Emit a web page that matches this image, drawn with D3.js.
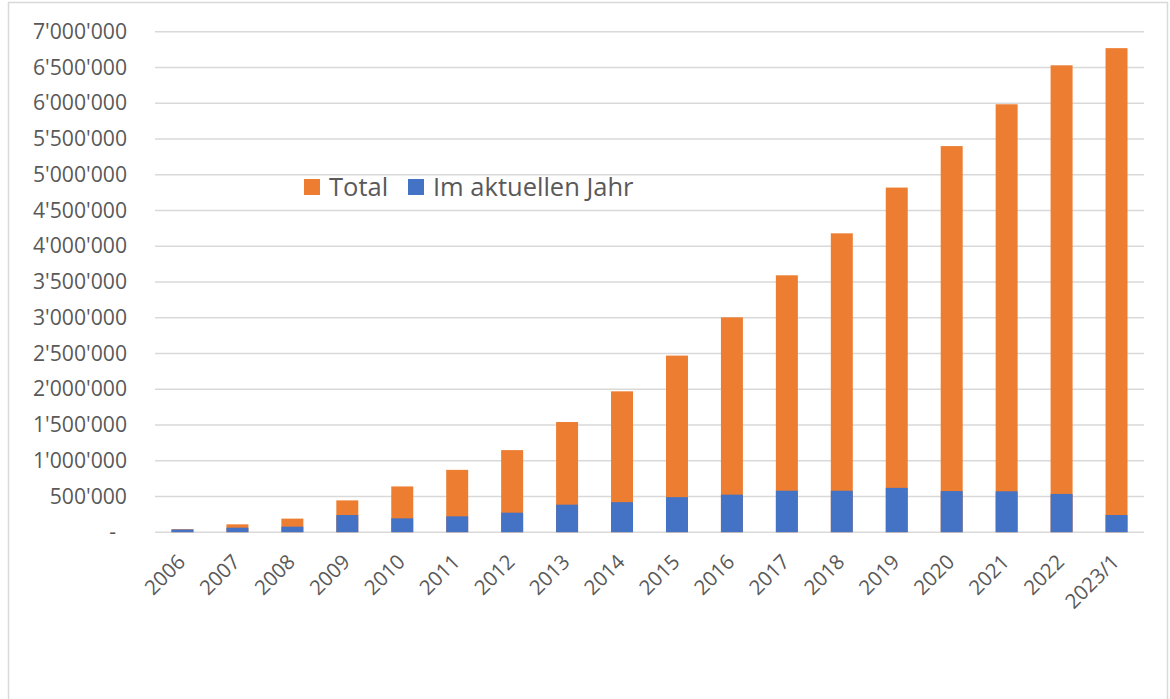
<!DOCTYPE html>
<html>
<head>
<meta charset="utf-8">
<script src="https://cdn.jsdelivr.net/npm/d3@7"></script>
<style>
  body { margin: 0; background: #fff; }
  text { font-family: "Open Sans", sans-serif; fill: #595959; }
</style>
</head>
<body>
<div id="chart"></div>
<script>
const years = ["2006", "2007", "2008", "2009", "2010", "2011", "2012", "2013", "2014",
  "2015", "2016", "2017", "2018", "2019", "2020", "2021", "2022", "2023/1"];
const total = [42000, 110000, 190000, 445000, 640000, 872000, 1148000, 1541000, 1970000,
  2470000, 3005000, 3593000, 4180000, 4820000, 5400000, 5985000, 6530000, 6770000];
const currentYear = [38000, 63000, 77000, 240000, 194000, 222000, 273000, 385000, 420000,
  490000, 525000, 580000, 580000, 620000, 575000, 572000, 535000, 240000];
const yTicks = [0, 500000, 1000000, 1500000, 2000000, 2500000, 3000000, 3500000,
  4000000, 4500000, 5000000, 5500000, 6000000, 6500000, 7000000];
const seriesNames = ["Total", "Im aktuellen Jahr"];
const colors = ["#ED7D31", "#4472C4"];

const width = 1170, height = 699;
const plotLeft = 155, plotRight = 1144, plotTop = 31.7, plotBottom = 532.2;

const svg = d3.select("#chart").append("svg")
    .attr("width", width)
    .attr("height", height);

// chart frame
svg.append("rect")
    .attr("x", 8.5).attr("y", 2.5)
    .attr("width", 1159).attr("height", 710)
    .attr("fill", "none")
    .attr("stroke", "#d9d9d9")
    .attr("stroke-width", 1.5);

const x = d3.scaleBand().domain(years).range([plotLeft, plotRight])
    .paddingInner(0.6).paddingOuter(0.3);
const y = d3.scaleLinear().domain([0, 7000000]).range([plotBottom, plotTop]);

// gridlines
svg.append("g").selectAll("line")
    .data(yTicks)
    .enter().append("line")
    .attr("x1", plotLeft).attr("x2", plotRight)
    .attr("y1", d => y(d)).attr("y2", d => y(d))
    .attr("stroke", "#d9d9d9")
    .attr("stroke-width", 1.6);

// y axis labels
const fmt = d => d === 0 ? "-" : d3.format(",")(d).replace(/,/g, "'");
const yAxis = svg.append("g")
    .attr("transform", `translate(127,0)`)
    .call(d3.axisLeft(y).tickValues(yTicks).tickFormat(fmt).tickSize(0).tickPadding(0));
yAxis.select(".domain").remove();
yAxis.selectAll("text")
    .attr("font-size", "21.2px")
    .attr("font-family", "Open Sans")
    .attr("fill", "#595959")
    .attr("dx", d => d === 0 ? -11 : 0);

// bars: total behind, current year in front (overlapping)
svg.append("g").selectAll("rect")
    .data(years)
    .enter().append("rect")
    .attr("x", d => x(d))
    .attr("y", (d, i) => y(total[i]))
    .attr("width", x.bandwidth())
    .attr("height", (d, i) => plotBottom - y(total[i]))
    .attr("fill", colors[0]);

svg.append("g").selectAll("rect")
    .data(years)
    .enter().append("rect")
    .attr("x", d => x(d))
    .attr("y", (d, i) => y(currentYear[i]))
    .attr("width", x.bandwidth())
    .attr("height", (d, i) => plotBottom - y(currentYear[i]))
    .attr("fill", colors[1]);

// x axis labels
const xAxis = svg.append("g")
    .attr("transform", `translate(0,${plotBottom})`)
    .call(d3.axisBottom(x).tickSize(0).tickPadding(0));
xAxis.select(".domain").remove();
xAxis.selectAll("text")
    .attr("font-size", "20.5px")
    .attr("font-family", "Open Sans")
    .attr("fill", "#595959")
    .attr("text-anchor", "end")
    .attr("dy", null)
    .attr("y", 0)
    .attr("transform", "translate(4,31) rotate(-45)");

// legend
const legend = svg.append("g");
const legendX = [304, 408];
seriesNames.forEach((name, i) => {
  legend.append("rect")
      .attr("x", legendX[i]).attr("y", 179)
      .attr("width", 16).attr("height", 16)
      .attr("fill", colors[i]);
  legend.append("text")
      .attr("x", legendX[i] + 25).attr("y", 196)
      .attr("font-size", "25.5px")
      .text(name);
});
</script>
</body>
</html>
